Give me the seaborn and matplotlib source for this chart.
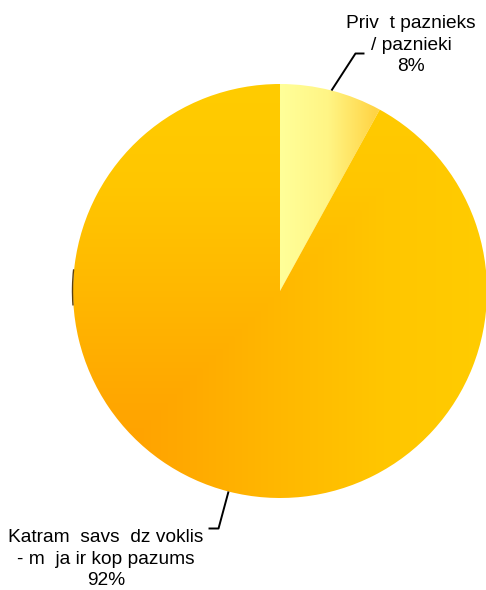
import numpy as np
import matplotlib
matplotlib.use("Agg")
import matplotlib.pyplot as plt
from matplotlib.colors import LinearSegmentedColormap
from matplotlib.patches import Arc
import seaborn as sns

# data
labels = ["Priv  t paznieks\n/ paznieki", "Katram  savs  dz voklis\n- m  ja ir kop pazums"]
values = [8, 92]

sns.set_style("white")
plt.rcParams['font.family'] = ['Liberation Sans', 'DejaVu Sans']

W, H = 486, 590
fig = plt.figure(figsize=(W / 100, H / 100), dpi=100)
ax = fig.add_axes([0, 0, 1, 1])

cx, cy, R = 280, 299, 207
wedges, _ = ax.pie(values, startangle=90, counterclock=False,
                   center=(cx, cy), radius=R, frame=True,
                   wedgeprops=dict(linewidth=0))
ax.set_xlim(0, W)
ax.set_ylim(0, H)
ax.set_aspect("equal")
ax.axis("off")

# gradient fills
xs = np.linspace(cx - R, cx + R, 400)
ys = np.linspace(cy - R, cy + R, 400)
gx, gy = np.meshgrid(xs, ys)
ext = (cx - R, cx + R, cy - R, cy + R)

# small slice: left-to-right light yellow -> gold
cm_small = LinearSegmentedColormap.from_list("s", ["#FFFF99", "#FFF585", "#FFD445"])
t_small = np.clip((gx - cx) / 95.0, 0, 1)
# big slice: "from corner" gradient, orange at lower left, yellow at top / right
cm_big = LinearSegmentedColormap.from_list("b", ["#FF9C00", "#FFA800", "#FFB800", "#FFC600", "#FFCC00"])
u = (gx - (cx - R)) / (2 * R)
v = (gy - (cy - R)) / (2 * R)
t_big = np.clip(np.maximum(u, v), 0, 1)

for w, t, cm in zip(wedges, [t_small, t_big], [cm_small, cm_big]):
    im = ax.imshow(t, cmap=cm, vmin=0, vmax=1, extent=ext, origin="lower",
                   interpolation="bilinear", zorder=1)
    im.set_clip_path(w)
    w.set_facecolor("none")

# small dark shade on the left rim
ax.add_patch(Arc((cx, cy), 2 * R + 1, 2 * R + 1, theta1=174, theta2=184,
                 color="#5a4010", lw=1.0, zorder=2))

# labels with leader lines
total = sum(values)
text_pos = [(411, 545), (106, 31)]
elbows = [(37, 24, 9), (-37, -10, -10)]
for w, lab, v_, (tx, ty), (ey, ex, hx) in zip(wedges, labels, values, text_pos, elbows):
    mid = np.deg2rad((w.theta1 + w.theta2) / 2)
    px, py = cx + R * np.cos(mid), cy + R * np.sin(mid)
    bx, by = px + ex, py + ey
    ax.plot([px, bx, bx + hx], [py, by, by], color="black", lw=1.4,
            solid_capstyle="butt", zorder=3)
    ax.text(tx, ty, f"{lab}\n{round(100 * v_ / total)}%", ha="center", va="center",
            fontsize=13.8, linespacing=1.32, color="black", zorder=4)

fig.savefig("out.png", dpi=100)
